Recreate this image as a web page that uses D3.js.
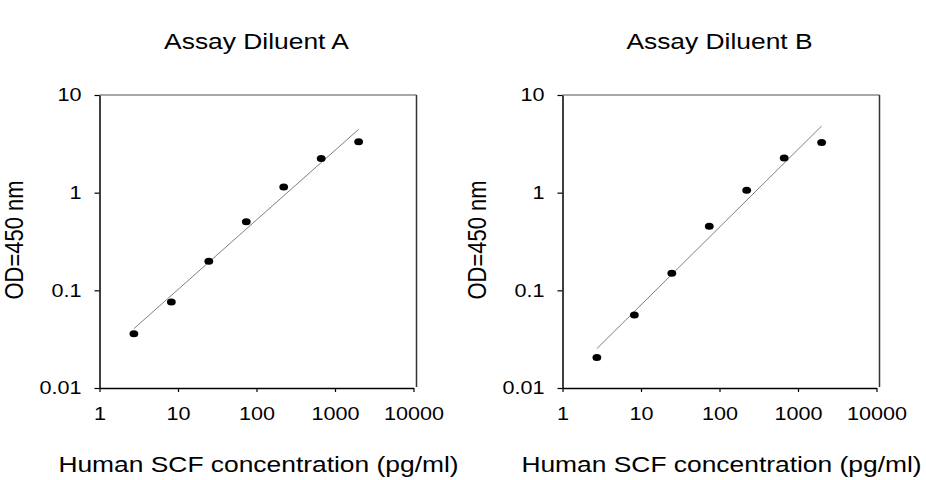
<!DOCTYPE html>
<meta charset="utf-8" />
<script src="https://d3js.org/d3.v7.min.js"></script>
<style>
	body { margin: 0; background: #fff; }
	text { font-family: "Liberation Sans", Arial, sans-serif; fill: #000; }
</style>
<div id="my_dataviz"></div>
<script>
	// data
	var titles = ["Assay Diluent A", "Assay Diluent B"];
	var concentrations = [2.74, 8.23, 24.7, 74.1, 222.2, 666.7, 2000];
	var odDiluentA = [0.036, 0.076, 0.198, 0.505, 1.14, 2.24, 3.33];
	var odDiluentB = [0.0205, 0.0559, 0.15, 0.452, 1.06, 2.26, 3.27];
	// fitted line, start and end (concentration, OD)
	var fitDiluentA = [[2.74, 0.0405], [2000, 4.45]];
	var fitDiluentB = [[2.74, 0.0253], [2000, 4.81]];
	var xTicks = [1, 10, 100, 1000, 10000];
	var yTicks = [0.01, 0.1, 1, 10];
	var xLabel = "Human SCF concentration (pg/ml)";
	var yLabel = "OD=450 nm";

	var width = 926, height = 480;
	var stretch = 1.2; // the picture is wider than tall, text included

	var svg = d3.select("#my_dataviz")
		.append("svg")
		.attr("width", width)
		.attr("height", height);

	// scales are the same for both panels
	var x = d3.scaleLog().domain([1, 10000]).range([99.5, 413.5]);
	var y = d3.scaleLog().domain([0.01, 10]).range([388, 95]);

	function drawPanel(offset, title, od, fit) {
		var g = svg.append("g").attr("transform", "translate(" + offset + ",0)");

		// frame: grey top, dark right side
		g.append("line")
			.attr("x1", x.range()[0]).attr("x2", x.range()[1] + 3)
			.attr("y1", y.range()[1]).attr("y2", y.range()[1])
			.attr("stroke", "#8a8a8a").attr("stroke-width", 1.5);
		g.append("line")
			.attr("x1", x.range()[1] + 3).attr("x2", x.range()[1] + 3)
			.attr("y1", y.range()[1]).attr("y2", y.range()[0] - 1)
			.attr("stroke", "#333").attr("stroke-width", 1.5);

		// X axis
		var xAxis = g.append("g")
			.attr("transform", "translate(0," + y.range()[0] + ")")
			.call(d3.axisBottom(x).tickValues(xTicks).tickFormat(d3.format("d"))
				.tickSize(4).tickSizeOuter(0).tickPadding(15));
		// Y axis
		var yAxis = g.append("g")
			.attr("transform", "translate(" + x.range()[0] + ",0)")
			.call(d3.axisLeft(y).tickValues(yTicks).tickFormat(d => String(d))
				.tickSize(5).tickSizeOuter(0));

		[xAxis, yAxis].forEach(function (a) {
			a.select(".domain").attr("stroke", "#000").attr("stroke-width", 1.5);
			a.selectAll(".tick line").attr("stroke", "#000").attr("stroke-width", 1.2);
			a.selectAll("text")
				.style("font-size", "18px")
				.style("font-family", "Liberation Sans, Arial, sans-serif")
				.attr("fill", "#000");
		});
		xAxis.selectAll("text").attr("transform", "scale(" + stretch + ",1)");
		yAxis.selectAll("text").attr("x", -15).attr("transform", "scale(" + stretch + ",1)");

		// fitted line
		g.append("path")
			.datum(fit)
			.attr("d", d3.line().x(d => x(d[0])).y(d => y(d[1])))
			.attr("stroke", "#7f7f7f")
			.attr("stroke-width", 1)
			.attr("fill", "none");

		// points
		g.selectAll("ellipse")
			.data(concentrations.map((c, i) => [c, od[i]]))
			.join("ellipse")
			.attr("cx", d => x(d[0]))
			.attr("cy", d => y(d[1]))
			.attr("rx", 4.4)
			.attr("ry", 3.5)
			.attr("fill", "#000");

		// title
		var cx = (x.range()[0] + x.range()[1]) / 2;
		g.append("text")
			.attr("transform", "translate(" + cx + ",49) scale(" + stretch + ",1)")
			.attr("text-anchor", "middle")
			.style("font-size", "22px")
			.text(title);

		// X axis label
		g.append("text")
			.attr("transform", "translate(" + (cx + 2) + ",472) scale(" + stretch + ",1)")
			.attr("text-anchor", "middle")
			.style("font-size", "22px")
			.text(xLabel);

		// Y axis label
		g.append("text")
			.attr("transform", "translate(23,240) scale(" + stretch + ",1) rotate(-90)")
			.attr("text-anchor", "middle")
			.style("font-size", "22px")
			.text(yLabel);
	}

	drawPanel(0, titles[0], odDiluentA, fitDiluentA);
	drawPanel(463, titles[1], odDiluentB, fitDiluentB);
</script>
